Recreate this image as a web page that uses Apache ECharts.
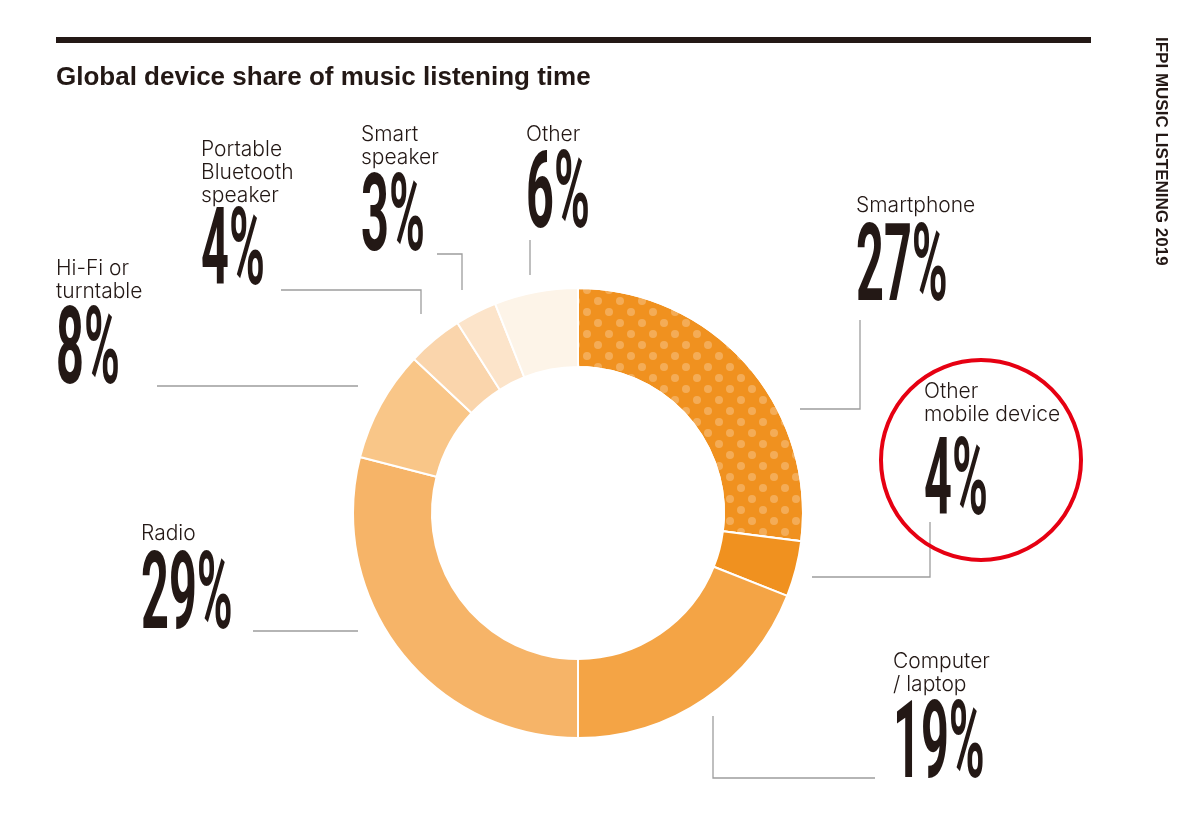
<!DOCTYPE html>
<html>
<head>
<meta charset="utf-8">
<title>Global device share of music listening time</title>
<script src="https://cdn.jsdelivr.net/npm/echarts@6/dist/echarts.min.js"></script>
<style>
  html, body { margin: 0; padding: 0; background: #fff; }
  #chart { width: 1196px; height: 815px; }
</style>
</head>
<body>
<div id="chart"></div>
<script>
// data, clockwise from 12 o'clock
var categories = ['Smartphone', 'Other\nmobile device', 'Computer\n/ laptop', 'Radio',
  'Hi-Fi or\nturntable', 'Portable\nBluetooth\nspeaker', 'Smart\nspeaker', 'Other'];
var shares = [27, 4, 19, 29, 8, 4, 3, 6];

// styling / layout (not data)
var sliceColors = ['#F0911F', '#F0911F', '#F4A445', '#F6B468', '#F9C688', '#FAD5AC', '#FCE4CA', '#FDF4E8'];
var namePos = [[856, 194], [924, 380], [893, 650], [141, 522], [56, 257], [201, 138], [361, 123], [526, 123]];
var pctPos = [[856, 273], [924, 487], [893, 750], [141, 601], [56, 356], [201, 257], [361, 223], [526, 200]];
var guideLines = [
  [[800, 409], [860, 409], [860, 320]],
  [[812, 577], [930, 577], [930, 522]],
  [[875, 778], [713, 778], [713, 716]],
  [[253, 631], [358, 631]],
  [[157, 386], [358, 386]],
  [[281, 290], [421, 290], [421, 314]],
  [[437, 254], [462, 254], [462, 290]],
  [[530, 240], [530, 275]]
];

var ink = '#231815';
var chart = echarts.init(document.getElementById('chart'));

var graphics = [
  { type: 'rect', shape: { x: 56, y: 37, width: 1035, height: 6 }, style: { fill: ink }, silent: true },
  {
    type: 'text', x: 1161, y: 37, rotation: -Math.PI / 2, silent: true,
    style: { text: 'IFPI MUSIC LISTENING 2019', fill: ink, font: 'bold 17px "Liberation Sans", Arial, sans-serif',
      align: 'left', verticalAlign: 'middle' }
  },
  { type: 'circle', shape: { cx: 981, cy: 460, r: 100 }, style: { fill: 'none', stroke: '#E60012', lineWidth: 4 }, silent: true, z: 10 }
];

// big condensed percentages
shares.forEach(function (v, i) {
  graphics.push({
    type: 'text', x: pctPos[i][0], y: pctPos[i][1], scaleX: 0.45, silent: true,
    style: {
      text: v + '%', fill: ink,
      font: 'bold 108px Roboto, "Liberation Sans", sans-serif',
      align: 'left', verticalAlign: 'middle'
    }
  });
});

chart.setOption({
  animation: false,
  title: {
    text: 'Global device share of music listening time',
    left: 51, top: 60,
    textStyle: { fontFamily: '"Liberation Sans", Arial, sans-serif', fontWeight: 'bold', fontSize: 26, color: ink }
  },
  graphic: graphics,
  series: [{
    type: 'pie',
    center: [578, 513],
    radius: [146, 225],
    startAngle: 90,
    clockwise: true,
    avoidLabelOverlap: false,
    silent: true,
    itemStyle: { borderColor: '#fff', borderWidth: 2 },
    label: {
      show: true,
      position: 'outside',
      formatter: '{b}',
      fontFamily: 'Inter, "Noto Sans", sans-serif',
      fontWeight: 300,
      fontSize: 21,
      lineHeight: 23,
      color: ink
    },
    labelLine: { show: true, lineStyle: { color: '#9d9d9d', width: 1.3 } },
    labelLayout: function (params) {
      var i = params.dataIndex;
      return {
        x: namePos[i][0], y: namePos[i][1],
        align: 'left', verticalAlign: 'top',
        labelLinePoints: guideLines[i]
      };
    },
    data: categories.map(function (name, i) {
      var item = { name: name, value: shares[i], itemStyle: { color: sliceColors[i] } };
      if (i === 0) {
        item.itemStyle.decal = {
          symbol: 'circle', symbolSize: 1,
          color: 'rgba(255,255,255,0.25)',
          dashArrayX: [[8, 14], [0, 11, 8, 3]],
          dashArrayY: [8, 3]
        };
      }
      return item;
    })
  }]
});
</script>
</body>
</html>
